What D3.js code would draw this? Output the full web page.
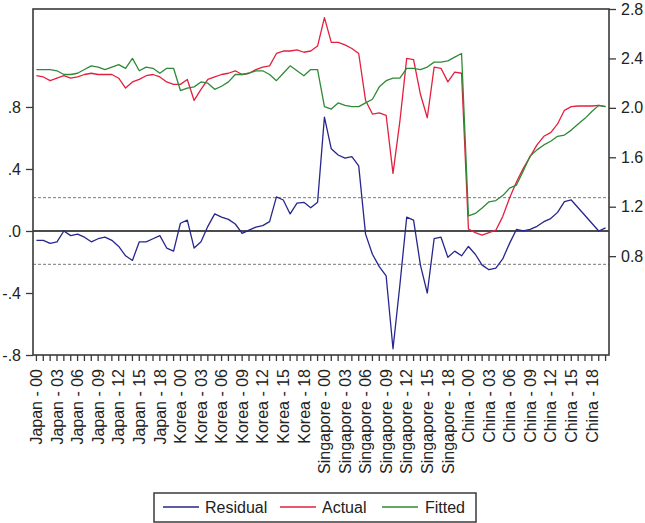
<!DOCTYPE html>
<html>
<head>
<meta charset="utf-8">
<script src="https://cdn.jsdelivr.net/npm/d3@7"></script>
<style>
  body { margin: 0; background: #fff; }
  svg { display: block; font-family: Arial, "Liberation Sans", sans-serif; }
</style>
</head>
<body>
<svg id="mainsvg" width="645" height="523"></svg>
<script>
// categories: country - year, years 00..20 for each country
var countries = ["Japan", "Korea", "Singapore", "China"];
var years = ["00","01","02","03","04","05","06","07","08","09","10",
             "11","12","13","14","15","16","17","18","19","20"];

var residual = [
  -0.06, -0.06, -0.08, -0.07, 0.00, -0.03, -0.02, -0.04, -0.07, -0.05, -0.04,
  -0.06, -0.10, -0.16, -0.19, -0.07, -0.07, -0.05, -0.03, -0.11, -0.13,
  0.05, 0.07, -0.11, -0.07, 0.03, 0.11, 0.09, 0.075, 0.045, -0.015,
  0.005, 0.025, 0.035, 0.06, 0.22, 0.20, 0.11, 0.18, 0.185, 0.15, 0.185,
  0.735, 0.53, 0.49, 0.47, 0.48, 0.42, -0.02, -0.15, -0.23, -0.29,
  -0.76, -0.35, 0.09, 0.07, -0.22, -0.40, -0.05, -0.04, -0.17, -0.13, -0.16,
  -0.10, -0.15, -0.22, -0.25, -0.24, -0.18, -0.08, 0.01, 0.00, 0.01,
  0.03, 0.06, 0.08, 0.12, 0.19, 0.20, 0.15, 0.10, 0.05, 0.00, 0.02
];
var actual = [
  2.26, 2.25, 2.22, 2.24, 2.26, 2.24, 2.25, 2.27, 2.28, 2.27, 2.27,
  2.27, 2.24, 2.16, 2.21, 2.23, 2.26, 2.27, 2.25, 2.21, 2.19,
  2.19, 2.23, 2.06, 2.15, 2.23, 2.25, 2.27, 2.28, 2.30, 2.27,
  2.28, 2.31, 2.33, 2.34, 2.44, 2.46, 2.46, 2.47, 2.45, 2.46, 2.50,
  2.73, 2.53, 2.53, 2.51, 2.48, 2.44, 2.06, 1.95, 1.96, 1.94,
  1.47, 1.89, 2.40, 2.39, 2.11, 1.92, 2.33, 2.32, 2.21, 2.29, 2.28,
  1.02, 0.99, 0.97, 0.99, 1.01, 1.12, 1.27, 1.40, 1.51, 1.605,
  1.70, 1.77, 1.80, 1.87, 1.98, 2.01, 2.015, 2.015, 2.015, 2.02, 2.01
];
var fitted = [
  2.31, 2.31, 2.31, 2.30, 2.27, 2.27, 2.28, 2.31, 2.34, 2.33, 2.31,
  2.33, 2.35, 2.32, 2.40, 2.30, 2.33, 2.32, 2.28, 2.32, 2.32,
  2.14, 2.16, 2.17, 2.21, 2.20, 2.15, 2.175, 2.21, 2.27, 2.27,
  2.28, 2.30, 2.30, 2.27, 2.22, 2.28, 2.34, 2.30, 2.26, 2.31, 2.31,
  2.01, 1.99, 2.04, 2.02, 2.01, 2.01, 2.04, 2.07, 2.17, 2.22,
  2.24, 2.24, 2.32, 2.32, 2.31, 2.33, 2.37, 2.37, 2.38, 2.41, 2.44,
  1.125, 1.146, 1.19, 1.24, 1.25, 1.29, 1.35, 1.375, 1.49, 1.61,
  1.66, 1.70, 1.73, 1.77, 1.78, 1.82, 1.87, 1.915, 1.97, 2.02, 2.01
];
var seBand = 0.215;
var leftTicks = [-0.8, -0.4, 0, 0.4, 0.8];
var leftTickLabels = ["-.8", "-.4", ".0", ".4", ".8"];
var rightTicks = [0.8, 1.2, 1.6, 2.0, 2.4, 2.8];
var labelEvery = 3;

var categories = [];
countries.forEach(function (c) {
  years.forEach(function (y) {
    categories.push(c + " - " + y);
  });
});

var svg = d3.select("#mainsvg");
var plotL = 33, plotR = 609, plotT = 9, plotB = 355;
var frameColor = "#3a3a3a";

var x = d3.scaleBand().domain(categories).range([plotL, plotR]).padding(0);
function cx(i) { return x(categories[i]) + x.bandwidth() / 2; }

var yL = d3.scaleLinear().domain([-0.8, 1.432]).range([plotB, plotT]);
var yR = d3.scaleLinear().domain([0, 2.8]).range([plotB, plotT]);

// reference lines
svg.append("line")
  .attr("x1", plotL).attr("x2", plotR)
  .attr("y1", yL(0)).attr("y2", yL(0))
  .attr("stroke", "#111").attr("stroke-width", 1.4);
[seBand, -seBand].forEach(function (v) {
  svg.append("line")
    .attr("x1", plotL).attr("x2", plotR)
    .attr("y1", yL(v)).attr("y2", yL(v))
    .attr("stroke", "#7a7a7a").attr("stroke-width", 1)
    .attr("stroke-dasharray", "3,2");
});

var lineL = d3.line()
  .x(function (d, i) { return cx(i); })
  .y(function (d) { return yL(d); });
var lineR = d3.line()
  .x(function (d, i) { return cx(i); })
  .y(function (d) { return yR(d); });

var series = [
  { name: "Residual", values: residual, line: lineL, color: "#26268c" },
  { name: "Actual", values: actual, line: lineR, color: "#e3203e" },
  { name: "Fitted", values: fitted, line: lineR, color: "#2f8a35" }
];

svg.append("g").selectAll("path")
  .data(series)
  .enter()
  .append("path")
  .attr("d", function (d) { return d.line(d.values); })
  .attr("fill", "none")
  .attr("stroke", function (d) { return d.color; })
  .attr("stroke-width", 1.3)
  .attr("stroke-linejoin", "round");

// frame
svg.append("rect")
  .attr("x", plotL).attr("y", plotT)
  .attr("width", plotR - plotL).attr("height", plotB - plotT)
  .attr("fill", "none").attr("stroke", frameColor).attr("stroke-width", 1.6);

// left axis
var axL = d3.axisLeft(yL).tickValues(leftTicks).tickSize(7).tickPadding(5)
  .tickFormat(function (d, i) { return leftTickLabels[i]; });
var gL = svg.append("g").attr("transform", "translate(" + plotL + ",0)").call(axL);

// right axis
var axR = d3.axisRight(yR).tickValues(rightTicks).tickSize(7).tickPadding(5)
  .tickFormat(d3.format(".1f"));
var gR = svg.append("g").attr("transform", "translate(" + plotR + ",0)").call(axR);

// bottom axis
var axB = d3.axisBottom(x).tickSize(6).tickPadding(4)
  .tickFormat(function (d, i) { return i % labelEvery === 0 ? d : ""; });
var gB = svg.append("g").attr("transform", "translate(0," + plotB + ")").call(axB);
gB.selectAll("text")
  .attr("transform", "rotate(-90)")
  .attr("x", -14).attr("y", 0).attr("dy", "0.36em")
  .style("text-anchor", "end");

[gL, gR, gB].forEach(function (g) {
  g.select(".domain").remove();
  g.selectAll(".tick line").attr("stroke", frameColor).attr("stroke-width", 1.3);
  g.selectAll("text").attr("fill", "#222")
    .style("font-size", "16px").style("font-family", "Arial, 'Liberation Sans', sans-serif");
});

// legend
var lg = svg.append("g");
lg.append("rect")
  .attr("x", 154).attr("y", 493).attr("width", 322).attr("height", 29)
  .attr("fill", "#fff").attr("stroke", frameColor).attr("stroke-width", 1.5);
var legendPos = [{ lx: 163, tx: 205 }, { lx: 280, tx: 322 }, { lx: 382, tx: 425 }];
series.forEach(function (s, i) {
  var p = legendPos[i];
  lg.append("line")
    .attr("x1", p.lx).attr("x2", p.lx + 36)
    .attr("y1", 507).attr("y2", 507)
    .attr("stroke", s.color).attr("stroke-width", 1.3);
  lg.append("text")
    .attr("x", p.tx).attr("y", 513)
    .attr("fill", "#222")
    .style("font-size", "16px")
    .text(s.name);
});
</script>
</body>
</html>
